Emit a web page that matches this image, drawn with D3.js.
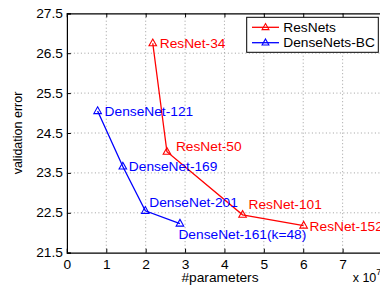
<!DOCTYPE html>
<html><head><meta charset="utf-8">
<script src="https://cdn.jsdelivr.net/npm/d3@7"></script>
<style>body{margin:0;background:#fff}svg{display:block}text{font-family:"Liberation Sans",Arial,sans-serif}</style>
</head><body><svg id="c" width="380" height="289"></svg>
<script>
const resNames = ["ResNet-34","ResNet-50","ResNet-101","ResNet-152"];
const resParams = [2.18,2.54,4.46,6.01];
const resError = [26.75,24.03,22.45,22.18];
const denseNames = ["DenseNet-121","DenseNet-169","DenseNet-201","DenseNet-161(k=48)"];
const denseParams = [0.78,1.42,1.99,2.87];
const denseError = [25.05,23.66,22.55,22.23];
const xTicks = [0,1,2,3,4,5,6,7,8];
const xTickLabels = ["0","1","2","3","4","5","6","7",""];
const yTicks = [21.5,22.5,23.5,24.5,25.5,26.5,27.5];
const legendLabels = ["ResNets","DenseNets-BC"];

// label offsets (style)
const resOff = [[7,5],[9,-0.5],[6,-5.5],[6,5]];
const denseOff = [[7,5],[6,4.5],[4,-3.5],[-1.5,15.5]];

const SX = 1.1;
function stretch(sel){
  sel.each(function(){
    const t = d3.select(this);
    const x0 = +(t.attr("x")||0);
    t.attr("x", x0/SX).attr("transform", `scale(${SX},1)`);
  });
}

const svg = d3.select("#c");
const x = d3.scaleLinear().domain([0,8]).range([66.9,382]);
const y = d3.scaleLinear().domain([21.5,27.5]).range([252.7,13.3]);
const FS = 12.5;

// grid
svg.append("g").selectAll("line").data(xTicks.slice(1)).join("line")
  .attr("x1",d=>x(d)).attr("x2",d=>x(d)).attr("y1",y(21.5)).attr("y2",y(27.5))
  .attr("stroke","#888").attr("stroke-width",0.8).attr("stroke-dasharray","1,2.5");
svg.append("g").selectAll("line").data(yTicks.slice(1,-1)).join("line")
  .attr("y1",d=>y(d)).attr("y2",d=>y(d)).attr("x1",x(0)).attr("x2",x(8))
  .attr("stroke","#888").attr("stroke-width",0.8).attr("stroke-dasharray","1,2.5");

// axes
const xb = d3.axisBottom(x).tickValues(xTicks).tickSize(-4).tickPadding(7).tickFormat((d,i)=>xTickLabels[i]);
const gx = svg.append("g").attr("transform",`translate(0,${y(21.5)})`).call(xb);
const xt = d3.axisTop(x).tickValues(xTicks).tickSize(-4).tickFormat("");
const gxt = svg.append("g").attr("transform",`translate(0,${y(27.5)})`).call(xt);
const yl = d3.axisLeft(y).tickValues(yTicks).tickSize(-4).tickPadding(4).tickFormat(d3.format(".1f"));
const gy = svg.append("g").attr("transform",`translate(${x(0)},0)`).call(yl);
[gx,gxt,gy].forEach(g=>{
  g.select(".domain").attr("stroke","#000").attr("stroke-width",1.2);
  g.selectAll(".tick line").attr("stroke","#000");
  g.selectAll("text").attr("font-size",FS).attr("fill","#000").attr("font-family","Liberation Sans, Arial, sans-serif");
  stretch(g.selectAll("text"));
});

// axis labels
stretch(svg.append("text").attr("x",220).attr("y",282).attr("text-anchor","middle").attr("font-size",FS).text("#parameters"));
svg.append("text").attr("transform","translate(22,133) rotate(-90)").attr("text-anchor","middle").attr("font-size",FS).text("validation error");
const sc = svg.append("text").attr("x",352.7).attr("y",282).attr("font-size",FS);
sc.append("tspan").text("x 10");
sc.append("tspan").attr("font-size",9).attr("dy",-7).text("7");

function tri(cx,cy,s){return `M${cx},${cy-s}L${cx+s*0.9},${cy+s*0.6}L${cx-s*0.9},${cy+s*0.6}Z`;}

function series(names,px,py,off,color){
  const pts = px.map((v,i)=>[x(v),y(py[i])]);
  svg.append("path").attr("d",d3.line()(pts)).attr("fill","none").attr("stroke",color).attr("stroke-width",1.3);
  svg.append("g").selectAll("path").data(pts).join("path").attr("d",d=>tri(d[0],d[1],4.2))
    .attr("fill","none").attr("stroke",color).attr("stroke-width",1.1);
  const tx = svg.append("g").selectAll("text").data(names).join("text")
    .attr("x",(d,i)=>pts[i][0]+off[i][0]).attr("y",(d,i)=>pts[i][1]+off[i][1])
    .attr("font-size",FS).attr("fill",color).text(d=>d);
  stretch(tx);
}
series(resNames,resParams,resError,resOff,"#ff0000");
series(denseNames,denseParams,denseError,denseOff,"#0000ff");

// legend
const lg = svg.append("g");
lg.append("rect").attr("x",246.7).attr("y",17.3).attr("width",131.6).attr("height",35).attr("fill","#fff").attr("stroke","#000").attr("stroke-width",1);
const colors = ["#ff0000","#0000ff"];
legendLabels.forEach((t,i)=>{
  const cy = 27.3 + i*15.4;
  lg.append("line").attr("x1",252).attr("x2",279).attr("y1",cy).attr("y2",cy).attr("stroke",colors[i]).attr("stroke-width",1.3);
  lg.append("path").attr("d",tri(265.5,cy,3.8)).attr("fill","none").attr("stroke",colors[i]).attr("stroke-width",1.1);
  stretch(lg.append("text").attr("x",283.3).attr("y",cy+4.5).attr("font-size",FS).attr("fill","#000").text(t));
});
</script></body></html>
